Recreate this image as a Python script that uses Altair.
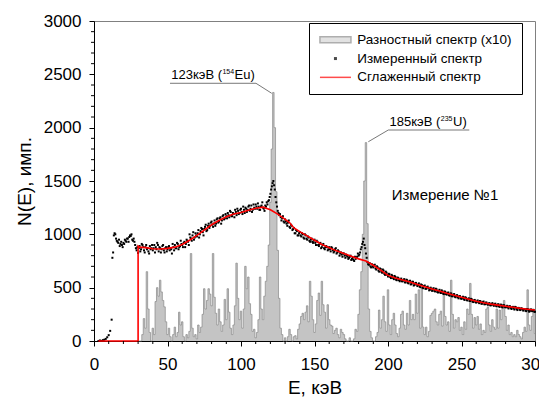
import altair as alt
import pandas as pd

# ---------------- data ----------------
diff_E = list(range(30, 301))
diff_N = [
    0, 0, 0, 60, 210, 120, 650, 300, 80, 0,
    120, 60, 370, 500, 420, 570, 460, 380, 320, 180,
    60, 120, 40, 0, 60, 130, 40, 80, 270, 150,
    180, 40, 0, 60, 30, 90, 820, 120, 40, 60,
    20, 150, 80, 130, 250, 490, 300, 380, 490, 440,
    330, 820, 410, 260, 150, 300, 180, 90, 150, 390,
    200, 490, 270, 120, 60, 150, 330, 730, 400, 200,
    280, 120, 300, 700, 490, 600, 350, 250, 90, 110,
    30, 80, 200, 600, 300, 200, 420, 560, 700, 900,
    1300, 1800, 2330, 2000, 1400, 850, 400, 120, 60, 0,
    30, 0, 40, 110, 60, 0, 40, 50, 20, 110,
    160, 230, 260, 200, 270, 330, 180, 560, 420, 200,
    80, 160, 380, 450, 240, 560, 340, 270, 120, 340,
    200, 150, 140, 70, 100, 120, 60, 30, 110, 80,
    60, 20, 0, 0, 30, 0, 0, 20, 110, 90,
    250, 480, 650, 1000, 1500, 1860, 1100, 300, 90, 30,
    0, 0, 40, 80, 290, 120, 200, 420, 180, 90,
    480, 150, 60, 200, 260, 150, 70, 40, 120, 250,
    280, 150, 110, 260, 150, 380, 200, 250, 200, 440,
    260, 480, 120, 500, 130, 60, 130, 40, 90, 240,
    260, 280, 300, 180, 150, 250, 280, 140, 450, 230,
    150, 180, 90, 570, 250, 120, 200, 180, 220, 100,
    130, 60, 180, 110, 300, 250, 540, 250, 120, 220,
    150, 230, 110, 160, 60, 100, 80, 300, 320, 150,
    90, 200, 130, 110, 300, 120, 290, 200, 340, 380,
    230, 100, 150, 60, 80, 40, 60, 40, 100, 60,
    40, 20, 80, 130, 90, 480, 150, 100, 230, 300,
    70,
]

# measured spectrum, integer channels
meas_E = list(range(3, 301))
meas_N = [
    0, 5, 0, 8, 12, 20, 35,
    55, 95, 200, 830, 1010, 960, 930, 950, 910, 900,
    920, 950, 930, 960, 975, 985, 950, 960, 900, 850,
    825, 890, 860, 900, 850, 880, 860, 840, 890, 870,
    850, 900, 880, 920, 840, 870, 860, 900, 830, 880,
    860, 890, 870, 820, 880, 900, 870, 910, 880, 940,
    900, 920, 880, 950, 930, 1000, 960, 990, 950, 1010,
    980, 1040, 1000, 1060, 1020, 1050, 1090, 1040, 1100, 1080,
    1120, 1070, 1130, 1100, 1150, 1120, 1160, 1130, 1180, 1150,
    1170, 1200, 1160, 1210, 1170, 1190, 1230, 1180, 1220, 1200,
    1240, 1190, 1230, 1250, 1210, 1260, 1220, 1270, 1230, 1250,
    1280, 1240, 1260, 1230, 1270, 1250, 1220, 1260, 1280, 1320,
    1380, 1450, 1500, 1420, 1300, 1220, 1180, 1160, 1150, 1120,
    1140, 1100, 1110, 1070, 1090, 1040, 1060, 1010, 1030, 990,
    1020, 980, 1000, 960, 990, 950, 970, 930, 960, 920,
    950, 900, 930, 890, 920, 880, 910, 860, 890, 850,
    880, 840, 870, 830, 860, 820, 850, 800, 830, 790,
    820, 780, 800, 770, 790, 760, 780, 750, 770, 790,
    800, 830, 880, 930, 900, 820, 740, 715, 700, 720,
    690, 715, 670, 690, 650, 675, 640, 660, 620, 640,
    605, 625, 590, 610, 580, 600, 570, 590, 560, 585,
    560, 580, 550, 570, 540, 565, 535, 555, 525, 545,
    515, 540, 505, 525, 495, 520, 490, 510, 475, 500,
    470, 495, 465, 485, 455, 480, 450, 465, 440, 460,
    435, 455, 425, 445, 420, 440, 410, 430, 400, 420,
    395, 415, 385, 405, 380, 400, 375, 390, 365, 385,
    360, 380, 355, 370, 350, 370, 345, 360, 340, 355,
    335, 355, 330, 350, 325, 345, 320, 340, 315, 335,
    315, 330, 305, 325, 300, 320, 295, 315, 290, 310,
    290, 305, 285, 300, 280, 300, 275, 295, 280, 290,
    275,
]

# measured spectrum, half-integer channels (12.5 ... 299.5)
meas2_E = [e + 0.5 for e in range(12, 300)]
meas2_N = [
    780, 990, 1000, 940, 920, 890, 930, 880,
    910, 940, 960, 930, 990, 1000, 940, 930, 870, 880,
    870, 840, 910, 880, 830, 900, 870, 820, 860, 900,
    870, 830, 860, 900, 880, 830, 890, 850, 870, 840,
    880, 850, 860, 910, 850, 870, 920, 860, 890, 910,
    880, 930, 910, 940, 900, 970, 940, 1020, 970, 990,
    1010, 970, 1030, 1050, 990, 1070, 1030, 1080, 1060, 1110,
    1090, 1100, 1080, 1140, 1110, 1150, 1100, 1170, 1140, 1190,
    1150, 1180, 1220, 1170, 1200, 1160, 1210, 1240, 1190, 1230,
    1210, 1260, 1200, 1240, 1230, 1270, 1240, 1210, 1280, 1240,
    1260, 1290, 1230, 1260, 1300, 1240, 1270, 1300, 1310, 1350,
    1420, 1480, 1460, 1350, 1260, 1200, 1190, 1130, 1170, 1110,
    1120, 1080, 1130, 1060, 1080, 1050, 1010, 1040, 990, 1010,
    990, 1010, 970, 1000, 960, 980, 940, 950, 930, 940,
    920, 940, 900, 910, 870, 900, 870, 880, 880, 860,
    860, 880, 850, 840, 870, 830, 840, 820, 810, 820,
    800, 810, 790, 780, 800, 770, 760, 790, 780, 820,
    810, 860, 910, 960, 870, 780, 720, 730, 690, 700,
    710, 680, 700, 660, 680, 650, 670, 630, 650, 620,
    630, 600, 620, 590, 610, 575, 595, 570, 575, 560,
    570, 550, 575, 545, 560, 530, 555, 520, 540, 530,
    525, 510, 530, 500, 515, 490, 505, 495, 480, 490,
    485, 470, 490, 460, 470, 455, 475, 445, 465, 440,
    450, 430, 445, 420, 435, 415, 425, 410, 420, 400,
    405, 395, 410, 385, 395, 375, 395, 370, 380, 365,
    370, 365, 375, 350, 365, 345, 360, 345, 350, 335,
    345, 340, 345, 330, 340, 325, 340, 320, 335, 320,
    320, 315, 325, 310, 315, 305, 320, 300, 310, 295,
    305, 295, 300, 285, 300, 290, 280, 295, 285, 275,
]

smooth_E = [3, 30, 30, 31, 35, 40, 45, 50, 55, 60, 65, 70, 75, 80, 85, 90, 95,
            100, 105, 110, 115, 120, 125, 130, 133, 136, 140, 145, 150, 155,
            160, 165, 170, 175, 180, 185, 190, 195, 200, 205, 210, 215, 220,
            225, 230, 235, 240, 245, 250, 255, 260, 265, 270, 275, 280, 285,
            290, 295, 300]
smooth_N = [0, 0, 890, 880, 875, 865, 862, 868, 880, 905, 945, 990, 1040, 1090,
            1130, 1165, 1190, 1205, 1225, 1245, 1255, 1230, 1190, 1140, 1110,
            1060, 1025, 985, 945, 905, 875, 845, 820, 795, 770, 750, 710, 665,
            615, 590, 572, 553, 530, 508, 488, 468, 447, 428, 410, 392, 372,
            358, 346, 336, 326, 316, 306, 298, 290]

series_names = ["Разностный спектр (x10)", "Измеренный спектр", "Сглаженный спектр"]

x_ticks = [0, 50, 100, 150, 200, 250, 300]
y_ticks = [0, 500, 1000, 1500, 2000, 2500, 3000]
x_minor = [10, 20, 30, 40, 60, 70, 80, 90, 110, 120, 130, 140, 160, 170, 180,
           190, 210, 220, 230, 240, 260, 270, 280, 290]
y_minor = [100, 200, 300, 400, 600, 700, 800, 900, 1100, 1200, 1300, 1400,
           1600, 1700, 1800, 1900, 2100, 2200, 2300, 2400, 2600, 2700, 2800, 2900]

# annotation texts (anchors in data units)
ann_r_text = ["123кэВ (", "185кэВ ("]          # right-aligned before superscript
ann_r_E = [87.1, 235.6]
ann_r_N = [2456, 2018]
ann_l_text = ["Eu)", "U)", "Измерение №1"]     # left-aligned
ann_l_E = [95.6, 244.3, 202.5]
ann_l_N = [2456, 2018, 1320]
ann_l_size = [13, 13, 15]
ann_sup_text = ["154", "235"]
ann_sup_E = [87.4, 235.9]
ann_sup_N = [2500, 2060]
lead_E = [51.7, 110.2, 200.2, 200.2]
lead_N = [2416, 2416, 1978, 1978]
lead_E2 = [110.2, 120.9, 255.3, 186.6]
lead_N2 = [2416, 2322, 1978, 1868]

assert len(diff_E) == len(diff_N)
assert len(meas_E) == len(meas_N)
assert len(meas2_E) == len(meas2_N)
assert len(smooth_E) == len(smooth_N)

FONT = "Liberation Sans"

diff_df = pd.DataFrame({"E": diff_E, "N": diff_N})
meas_df = pd.concat([pd.DataFrame({"E": meas_E, "N": meas_N}),
                     pd.DataFrame({"E": meas2_E, "N": meas2_N})], ignore_index=True)
smooth_df = pd.DataFrame({"E": smooth_E, "N": smooth_N, "i": list(range(len(smooth_E)))})
leg_df = pd.DataFrame({"series": series_names})
r_df = pd.DataFrame({"E": ann_r_E, "N": ann_r_N, "t": ann_r_text})
l_df = pd.DataFrame({"E": ann_l_E, "N": ann_l_N, "t": ann_l_text, "s": ann_l_size})
sup_df = pd.DataFrame({"E": ann_sup_E, "N": ann_sup_N, "t": ann_sup_text})
lead_df = pd.DataFrame({"E": lead_E, "N": lead_N, "E2": lead_E2, "N2": lead_N2})
xminor_df = pd.DataFrame({"E": x_minor})
yminor_df = pd.DataFrame({"N": y_minor})

xs = alt.Scale(domain=[0, 300], nice=False)
ys = alt.Scale(domain=[0, 3000], nice=False)
X = alt.X("E:Q", scale=xs, axis=alt.Axis(values=x_ticks, title="E, кэВ", format="d",
                                          labelFlush=False, labelPadding=10, titlePadding=6))
Y = alt.Y("N:Q", scale=ys, axis=alt.Axis(values=y_ticks, title="N(E), имп.", format="d",
                                          labelFlush=False, labelPadding=8, titlePadding=9))

diff_area = alt.Chart(diff_df).mark_area(color="#c4c4c4", interpolate="step").encode(x=X, y=Y)
diff_line = alt.Chart(diff_df).mark_line(color="#888888", strokeWidth=0.7,
                                         interpolate="step").encode(x=X, y=Y)
meas = alt.Chart(meas_df).mark_square(size=4, color="black", opacity=1).encode(x=X, y=Y)
smooth = alt.Chart(smooth_df).mark_line(color="#ff0000", strokeWidth=1.6).encode(
    x=X, y=Y, order="i:Q")

dom = series_names
legend_layer = alt.Chart(leg_df).mark_point(filled=True, strokeWidth=1.5).encode(
    fill=alt.Fill("series:N", scale=alt.Scale(domain=dom, range=["#c4c4c4", "black", "red"]),
                  legend=alt.Legend(title=None, orient="none", legendX=215, legendY=2,
                                    direction="vertical", strokeColor="black", fillColor="white",
                                    padding=10, labelFont=FONT, labelFontSize=13.5,
                                    labelColor="black", symbolSize=100, symbolOffset=9.7,
                                    labelOffset=15, rowPadding=3.8, labelLimit=300)),
    stroke=alt.Stroke("series:N", scale=alt.Scale(domain=dom, range=["#8c8c8c", "black", "red"])),
    shape=alt.Shape("series:N", scale=alt.Scale(domain=dom, range=[
        "M-3.1,-0.6H3.1V0.6H-3.1Z", "M-0.15,-0.15H0.15V0.15H-0.15Z", "M-3.1,0H3.1"])),
).transform_filter("false")

leads = alt.Chart(lead_df).mark_rule(color="#555555", strokeWidth=0.8).encode(
    x=X, y=Y, x2="E2:Q", y2="N2:Q")
txt_r = alt.Chart(r_df).mark_text(align="right", baseline="alphabetic", font=FONT,
                                  fontSize=13, color="black").encode(x=X, y=Y, text="t:N")
txt_l = alt.Chart(l_df).mark_text(align="left", baseline="alphabetic", font=FONT,
                                  color="black").encode(
    x=X, y=Y, text="t:N", size=alt.Size("s:Q", scale=None, legend=None))
txt_sup = alt.Chart(sup_df).mark_text(align="left", baseline="alphabetic", font=FONT,
                                      fontSize=7, color="black").encode(x=X, y=Y, text="t:N")

xminor = alt.Chart(xminor_df).mark_rule(color="black", strokeWidth=1).encode(
    x=X, y=alt.value(320), y2=alt.value(323))
yminor = alt.Chart(yminor_df).mark_rule(color="black", strokeWidth=1).encode(
    y=Y, x=alt.value(0), x2=alt.value(-3))

chart = alt.layer(
    diff_area, diff_line, meas, smooth, legend_layer, leads, txt_r, txt_l, txt_sup, xminor, yminor
).properties(
    width=441, height=320, background="white",
    autosize=alt.AutoSizeParams(type="none"),
    padding={"left": 86, "top": 13, "right": 4, "bottom": 57},
).configure_view(
    stroke="#808080", strokeWidth=1
).configure_axis(
    labelFont=FONT, labelFontSize=17, labelColor="black",
    titleFont=FONT, titleFontSize=19, titleFontWeight="normal", titleColor="black",
    domainColor="black", tickColor="black", tickSize=5, grid=False,
)

chart.save("out.html", embed_options={"renderer": "svg", "actions": False})
